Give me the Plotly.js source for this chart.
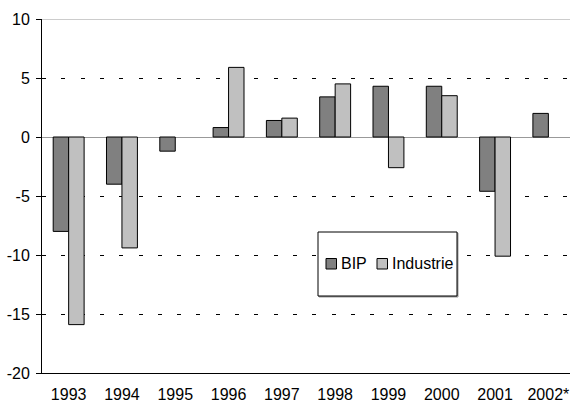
<!DOCTYPE html>
<html>
<head>
<meta charset="utf-8">
<script src="https://cdn.plot.ly/plotly-3.0.1.min.js"></script>
<style>html,body{margin:0;padding:0;background:#fff;overflow:hidden;}</style>
</head>
<body>
<div id="chart" style="width:570px;height:403px;"></div>
<script>
var years = ["1993","1994","1995","1996","1997","1998","1999","2000","2001","2002*"];
var seriesNames = ["BIP","Industrie"];
var bipValues = [-8.0,-4.0,-1.2,0.8,1.4,3.4,4.3,4.3,-4.6,2.0];
var industrieValues = [-15.9,-9.4,null,5.9,1.6,4.5,-2.6,3.5,-10.1,null];
var yTicks = [-20,-15,-10,-5,0,5,10];
var seriesColors = ["#808080","#c0c0c0"];

var FONT = "Liberation Sans, Arial, sans-serif";

var traces = [bipValues, industrieValues].map(function(vals, i){
  return {
    type: "bar",
    x: years,
    y: vals,
    name: seriesNames[i],
    marker: {color: seriesColors[i], line: {color: "#000", width: 1}},
    hoverinfo: "x+y"
  };
});

// plot area pixel geometry (for the hand-drawn legend box)
var L = 42, T = 19, W = 528, H = 354;
function px(x){ return (x - L) / W; }
function py(y){ return (T + H - y) / H; }

var shapes = [
  {type:"line", xref:"paper", yref:"y", x0:0, x1:1, y0:10, y1:10, line:{color:"#999", width:1}, layer:"below"},
  {type:"rect", xref:"paper", yref:"paper", x0:px(319), x1:px(458), y0:py(297), y1:py(233), line:{color:"#999", width:1}, fillcolor:"#999", layer:"above"},
  {type:"rect", xref:"paper", yref:"paper", x0:px(318), x1:px(457), y0:py(296), y1:py(232), line:{color:"#000", width:1}, fillcolor:"#fff", layer:"above"}
];
var annotations = [];
var swatchX = [326, 377];
var textX = [340, 391];
seriesNames.forEach(function(n, i){
  shapes.push({type:"rect", xref:"paper", yref:"paper",
    x0:px(swatchX[i]), x1:px(swatchX[i]+10.5), y0:py(269), y1:py(258.5),
    line:{color:"#000", width:1}, fillcolor:seriesColors[i], layer:"above"});
  annotations.push({xref:"paper", yref:"paper", x:px(textX[i]-1), y:py(263),
    xanchor:"left", yanchor:"middle", showarrow:false, text:n,
    font:{family:FONT, size:16, color:"#000"}});
});

var layout = {
  width: 570, height: 403,
  margin: {l: L, r: 0, t: T, b: 403 - T - H, pad: 0},
  paper_bgcolor: "#fff", plot_bgcolor: "#fff",
  font: {family: FONT, size: 16, color: "#000"},
  showlegend: false,
  barmode: "group",
  bargap: 0.42,
  bargroupgap: 0,
  xaxis: {
    type: "category",
    range: [-0.5, 9.406],
    showline: true, linecolor: "#000", linewidth: 1,
    showgrid: false, zeroline: false,
    ticks: "", ticklabelstandoff: 7,
    tickfont: {family: FONT, size: 16, color: "#000"}
  },
  yaxis: {
    range: [-20, 10],
    tickvals: yTicks,
    ticktext: yTicks.map(String),
    showline: true, linecolor: "#000", linewidth: 1,
    ticks: "outside", ticklen: 5, tickcolor: "#000", tickwidth: 1,
    ticklabelstandoff: 3,
    showgrid: true, gridcolor: "#000", gridwidth: 1, griddash: "4px,15.3px",
    zeroline: true, zerolinecolor: "#999", zerolinewidth: 1,
    tickfont: {family: FONT, size: 16, color: "#000"}
  },
  shapes: shapes,
  annotations: annotations
};

Plotly.newPlot("chart", traces, layout, {displayModeBar: false, staticPlot: true});
</script>
</body>
</html>
